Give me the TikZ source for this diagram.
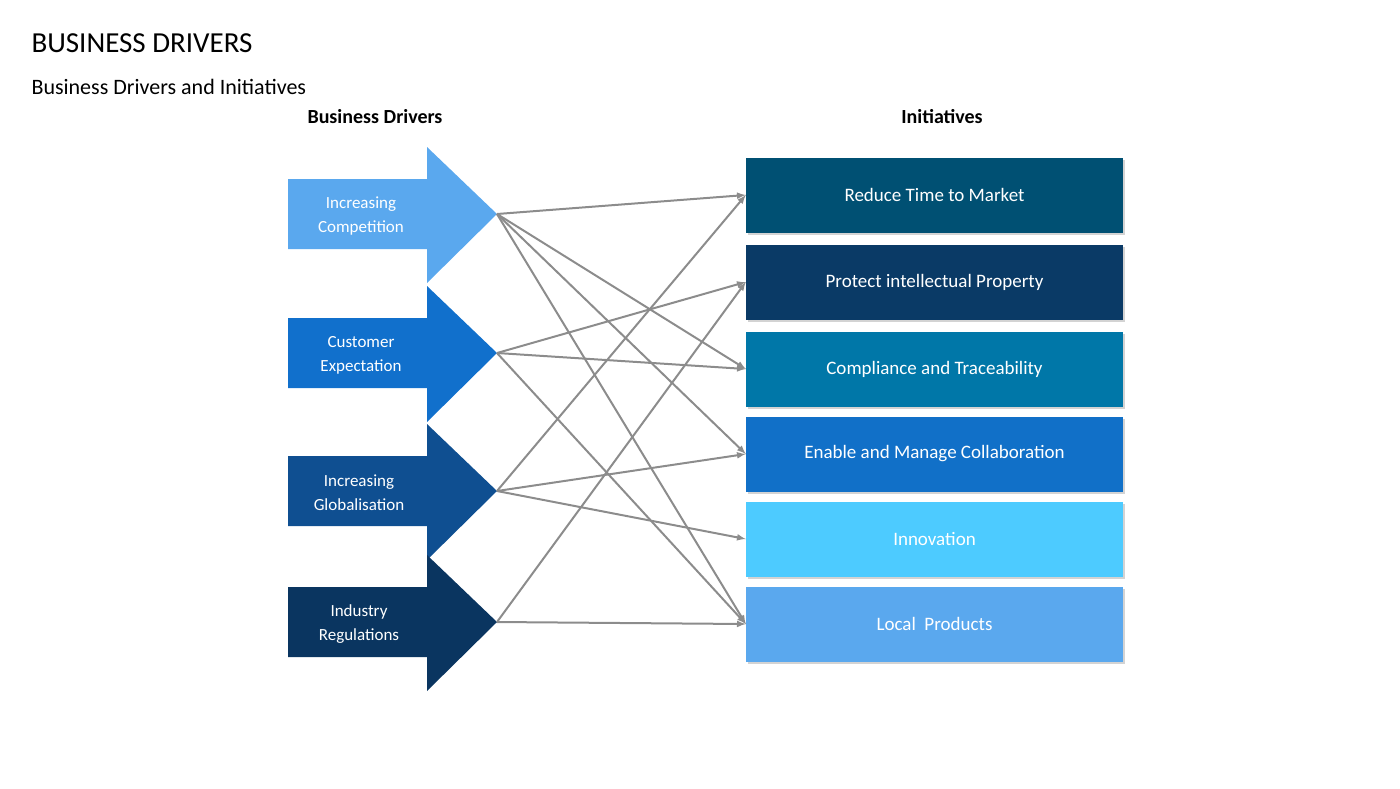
\documentclass[tikz,border=0pt]{standalone}
\usepackage{fontspec}
\setmainfont{Carlito}
\usetikzlibrary{shadows}
\definecolor{dOne}{HTML}{5AA8EE}
\definecolor{dTwo}{HTML}{1170CC}
\definecolor{dThree}{HTML}{0F4F91}
\definecolor{dFour}{HTML}{0A3560}
\definecolor{iOne}{HTML}{005073}
\definecolor{iTwo}{HTML}{0A3A66}
\definecolor{iThree}{HTML}{0077A8}
\definecolor{iFour}{HTML}{1170C8}
\definecolor{iFive}{HTML}{4DCBFF}
\definecolor{iSix}{HTML}{5AA8EE}
\tikzset{
  init/.style={minimum width=377pt, minimum height=75pt, inner sep=0pt, text=white,
    font=\fontsize{19}{22}\selectfont, drop shadow={opacity=0.35, shadow xshift=2pt, shadow yshift=-2pt}},
  drvtext/.style={text=white, align=center, font=\fontsize{17}{24}\selectfont},
  link/.style={draw=gray!90, line width=2pt, -latex}
}
\newcommand{\driver}[3]{% centre y, colour, name
  \fill[#2] (288,#1-35) -- (427,#1-35) -- (427,#1-67) -- (497,#1) -- (427,#1+69) -- (427,#1+35) -- (288,#1+35) -- cycle;
  \coordinate (#3) at (497,#1);
}
\begin{document}
\begin{tikzpicture}[x=1pt,y=-1pt]
\useasboundingbox (0,0) rectangle (1400,788);
\node[anchor=west, font=\fontsize{29}{32}\selectfont] (title) at (28,43) {BUSINESS DRIVERS};
\node[anchor=west, font=\fontsize{22}{26}\selectfont] (sub) at (28,87) {Business Drivers and Initiatives};
\node[font=\bfseries\fontsize{20}{24}\selectfont] (hdrv) at (375,117) {Business Drivers};
\node[font=\bfseries\fontsize{20}{24}\selectfont] (hini) at (942,117) {Initiatives};
% drivers
\driver{214}{dOne}{c1}
\driver{353}{dTwo}{c2}
\driver{491}{dThree}{c3}
\driver{622}{dFour}{c4}
\node[drvtext] (t1) at (361,216) {Increasing\\Competition};
\node[drvtext] (t2) at (361,355) {Customer\\Expectation};
\node[drvtext] (t3) at (359,493) {Increasing\\Globalisation};
\node[drvtext] (t4) at (359,624) {Industry\\Regulations};
% initiatives
\node[init, fill=iOne] (r1) at (934.5,195) {Reduce Time to Market};
\node[init, fill=iTwo] (r2) at (934.5,282) {Protect intellectual Property};
\node[init, fill=iThree] (r3) at (934.5,369) {Compliance and Traceability};
\node[init, fill=iFour] (r4) at (934.5,454) {Enable and Manage Collaboration};
\node[init, fill=iFive] (r5) at (934.5,539) {Innovation};
\node[init, fill=iSix] (r6) at (934.5,624) {Local\ \ Products};
% links
\foreach \a/\b in {c1/r1,c1/r3,c1/r4,c1/r6,c2/r2,c2/r3,c2/r6,c3/r1,c3/r4,c3/r5,c4/r2,c4/r6}
  \draw[link] (\a) -- (\b.west);
\end{tikzpicture}
\end{document}
